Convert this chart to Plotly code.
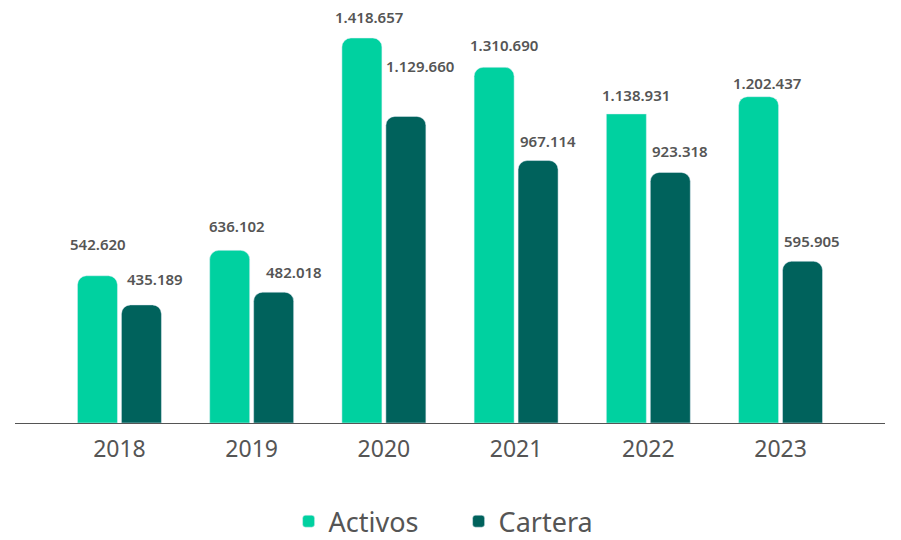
import plotly.graph_objects as go

years = ["2018", "2019", "2020", "2021", "2022", "2023"]
activos = [542620, 636102, 1418657, 1310690, 1138931, 1202437]
cartera = [435189, 482018, 1129660, 967114, 923318, 595905]

# small nudges (px) for the value labels
activos_dx = [0, 7, 7, 10, 10, 8]
activos_dy = [20, 12, 9, 10, 7, 2]
cartera_dx = [14, 20, 14, 10, 10, 9]
cartera_dy = [14, 8, 38, 8, 9, 8]

C_ACT = "#00D1A0"
C_CAR = "#00625C"
TXT = "#555555"
FONT = "Noto Sans"


def fmt(v):
    return f"{v:,}".replace(",", ".")


fig = go.Figure()

# Activos drawn with rounded tops except 2022, which has a square top
act_round = [v if y != "2022" else None for y, v in zip(years, activos)]
act_square = [v if y == "2022" else None for y, v in zip(years, activos)]

fig.add_trace(go.Bar(x=years, y=act_round, name="Activos", marker_color=C_ACT,
                     marker_cornerradius=9, offsetgroup="a", legendgroup="a"))
fig.add_trace(go.Bar(x=years, y=act_square, name="Activos", marker_color=C_ACT,
                     marker_cornerradius=0, offsetgroup="a", legendgroup="a",
                     showlegend=False))
fig.add_trace(go.Bar(x=years, y=cartera, name="Cartera", marker_color=C_CAR,
                     marker_cornerradius=9, offsetgroup="c", legendgroup="c"))

off = 0.166
label_font = dict(family=FONT, size=15, color=TXT, weight=600)
for i, y in enumerate(years):
    fig.add_annotation(x=i - off, y=activos[i], text=fmt(activos[i]), showarrow=False,
                       xref="x", yref="y", yanchor="bottom", xshift=activos_dx[i],
                       yshift=activos_dy[i], font=label_font)
    fig.add_annotation(x=i + off, y=cartera[i], text=fmt(cartera[i]), showarrow=False,
                       xref="x", yref="y", yanchor="bottom", xshift=cartera_dx[i],
                       yshift=cartera_dy[i], font=label_font)

fig.update_layout(
    width=901, height=540,
    margin=dict(l=15, r=16, t=20, b=117, autoexpand=False),
    paper_bgcolor="white", plot_bgcolor="white",
    barmode="group", bargap=0.335, bargroupgap=0.09,
    font=dict(family=FONT, color=TXT),
    legend=dict(orientation="h", x=0.509, xanchor="center", xref="container",
                y=0.034, yanchor="middle", yref="container",
                font=dict(size=27, color=TXT), entrywidth=125, entrywidthmode="pixels",
                traceorder="normal"),
    xaxis=dict(type="category", range=[-0.79, 5.79], showline=True, linecolor="#555555",
               linewidth=1, ticks="", ticklabelstandoff=5,
               tickfont=dict(size=23, color=TXT), showgrid=False),
    yaxis=dict(range=[0, 1485000], visible=False, showgrid=False, zeroline=False),
)

fig.write_html("out.html")
